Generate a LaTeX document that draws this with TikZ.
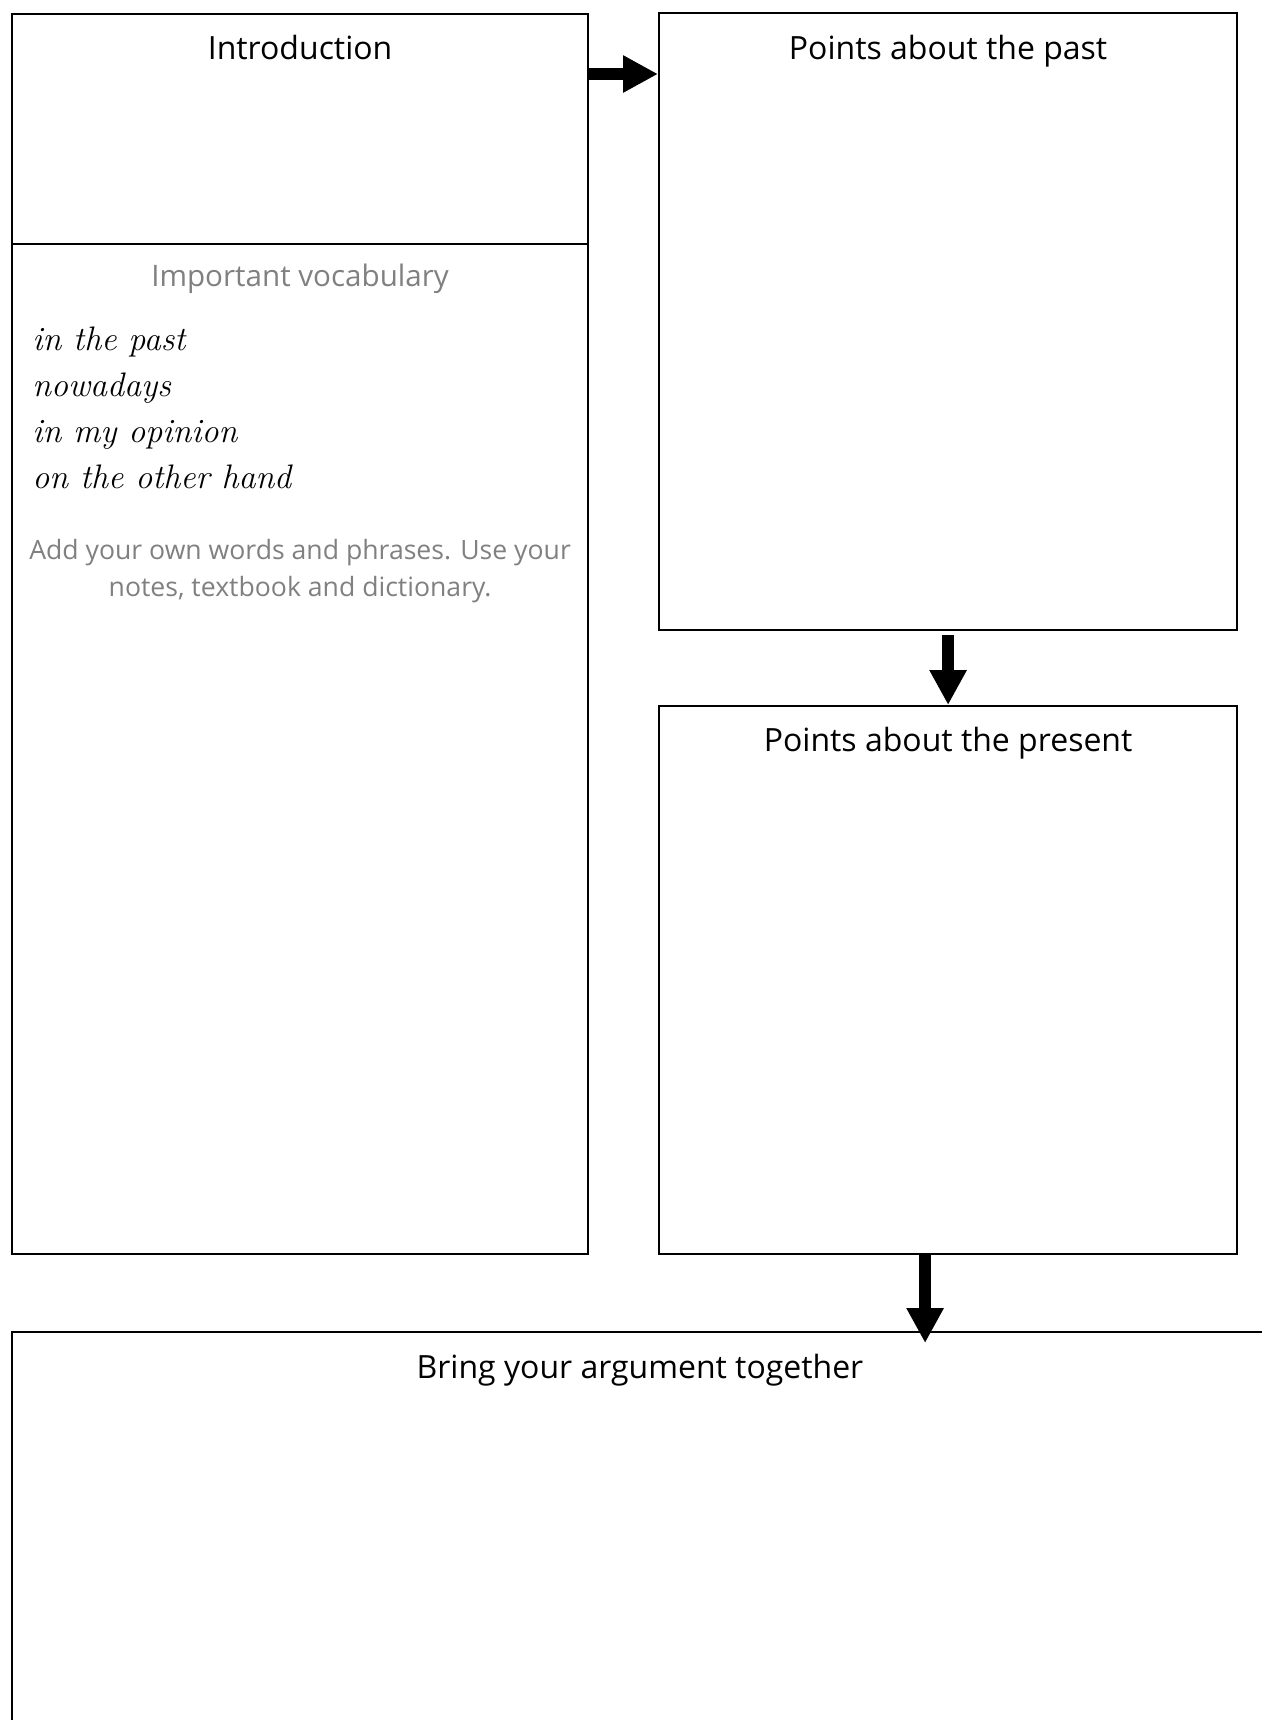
\documentclass[tikz,border=0pt]{standalone}
\usepackage{fontspec}
\newfontfamily\comic{Open Sans}
\usetikzlibrary{arrows.meta}
\definecolor{hint}{HTML}{808080}
\tikzset{
 box/.style={draw=black, line width=1.1pt, rectangle, inner sep=0pt, anchor=north west},
 title/.style={font=\comic\fontsize{16}{19}\selectfont, anchor=base, inner sep=0pt},
 hinttitle/.style={title, font=\comic\fontsize{14.8}{18}\selectfont, text=hint},
 note/.style={font=\comic\fontsize{13.3}{16}\selectfont, text=hint, anchor=base, inner sep=0pt},
 word/.style={font=\itshape\fontsize{17}{20}\selectfont, anchor=base west, inner sep=0pt},
 bigarrow/.style={line width=6.3pt, -{Triangle[length=17.5pt,width=17.5pt]}},
}
\begin{document}
\begin{tikzpicture}[x=0.5pt,y=-0.5pt]
\useasboundingbox (0,0) rectangle (1262,1720);
\clip (0,0) rectangle (1262,1720);
% boxes
\node[box, minimum width=288pt, minimum height=115pt] (intro) at (11,13) {};
\node[box, minimum width=288pt, minimum height=505pt] (vocab) at (11,243) {};
\node[box, minimum width=289pt, minimum height=308.5pt] (past) at (658,12) {};
\node[box, minimum width=289pt, minimum height=274pt] (present) at (658,705) {};
\node[box, minimum width=644.5pt, minimum height=234.5pt] (bring) at (11,1331) {};
% titles
\node[title] (tintro) at (intro.north |- 0,59) {Introduction};
\node[hinttitle] (tvocab) at (vocab.north |- 0,286) {Important vocabulary};
\node[title] (tpast) at (past.north |- 0,59) {Points about the past};
\node[title] (tpresent) at (present.north |- 0,751) {Points about the present};
\node[title] (tbring) at (640,1378) {Bring your argument together};
% vocabulary
\node[word] (w1) at (32,350) {in the past};
\node[word] (w2) at (32,396) {nowadays};
\node[word] (w3) at (32,442) {in my opinion};
\node[word] (w4) at (32,488) {on the other hand};
\node[note] (n1) at (vocab.north |- 0,559) {Add your own words and phrases. Use your};
\node[note] (n2) at (vocab.north |- 0,596) {notes, textbook and dictionary.};
% arrows
\draw[bigarrow] (intro.north east |- 0,74) -- (past.north west |- 0,74);
\draw[bigarrow, shorten <=2pt] (past.south) -- (present.north);
\draw[bigarrow, shorten >=-6pt] ([xshift=-11.5pt]present.south) -- ([xshift=-11.5pt]present.south |- bring.north);
\end{tikzpicture}
\end{document}
